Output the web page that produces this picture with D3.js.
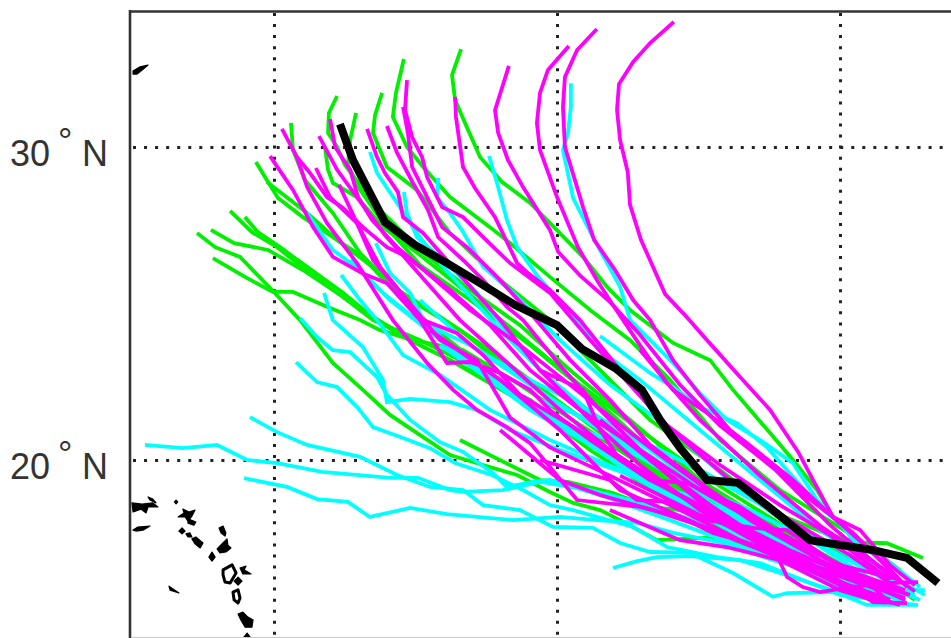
<!DOCTYPE html>
<html><head><meta charset="utf-8">
<style>html,body{margin:0;padding:0;background:#fff;overflow:hidden}svg{display:block}</style>
<script src="https://cdnjs.cloudflare.com/ajax/libs/d3/7.8.5/d3.min.js"></script>
</head><body><svg id="c" width="951" height="638"></svg>
<script>
const lonTicks=[130,140,150];
const latTicks=[30,20];
const latLabels=["30","20"];
const greenTracks=[
[[136.61,33.13],[136.29,32.3],[136.4,31.5],[136.75,30.77],[137.28,29.68],[138.06,28.88],[139.05,28.21],[140.1,27.25],[140.92,26.49],[141.77,25.53],[142.58,24.79],[144.1,23.74],[145.41,23.19],[146.22,22.24],[147.53,20.86],[148.34,20],[149.19,19.04],[149.75,18.18],[150.6,17.44],[151.66,16.64]],
[[134.59,32.81],[134.31,31.73],[134.2,30.96],[134.7,30],[135.27,29.36],[136.22,28.4],[137.63,27.44],[138.34,26.93],[139.75,25.85],[141.17,24.79],[142.58,23.83],[143.99,22.56],[145.76,20.64],[147.88,19.04],[150.71,17.44],[152.12,16.48]],
[[133.82,31.73],[133.57,31.02],[133.5,30.45],[133.99,29.36],[135.05,28.63],[136.22,27.25],[137.99,25.75],[139.75,24.47],[141.52,22.87],[143.29,21.28],[145.76,19.68],[148.59,17.76],[151.06,16.48],[152.65,15.53]],
[[132.23,31.63],[131.94,31.09],[131.91,30.45],[132.23,30],[132.51,29.42],[133.57,28.15],[135.16,26.71],[136.93,25.43],[138.69,24.31],[140.46,22.87],[142.58,21.28],[145.05,19.36],[147.88,17.76],[150.71,16.33]],
[[132.9,31.09],[132.69,30.22],[132.61,29.42],[133.04,28.63],[133.92,27.5],[135.16,26.23],[136.93,25.11],[139.05,23.67],[141.17,22.08],[142.93,20.64],[145.05,19.04],[147.53,17.6],[150.35,16.48]],
[[130.6,30.77],[130.67,29.9],[131.1,28.94],[132.08,27.89],[133.04,26.61],[134.1,25.65],[135.51,24.31],[137.28,23.03],[139.05,21.76],[141.17,20.32],[143.64,18.88],[146.47,17.44],[149.3,16.33],[151.77,15.53]],
[[131.8,30],[131.91,29.27],[132.08,28.85],[132.93,28.4],[133.85,27.44],[135.16,26.55],[136.93,25.27],[138.69,23.99],[140.81,22.4],[142.93,20.96],[145.41,19.36],[148.23,17.76],[150.71,16.8]],
[[129.36,29.52],[129.79,28.88],[130.14,28.37],[131.02,27.76],[132.23,27.03],[133.14,26.49],[133.99,25.65],[135.51,24.79],[137.63,23.51],[139.75,22.08],[141.87,20.64],[144.35,19.04],[147.17,17.6],[150,16.48]],
[[129.75,28.88],[130.21,28.56],[131.17,27.89],[132.23,27.03],[133.39,26.23],[134.81,25.11],[136.57,24.15],[138.34,22.87],[140.46,21.6],[142.93,20],[145.76,18.56],[148.59,17.28],[151.06,16.17]],
[[128.45,27.96],[129.22,27.28],[130.11,26.8],[131.27,25.97],[132.44,25.21],[133.5,24.47],[135.16,23.83],[137.28,22.87],[139.4,21.6],[141.87,20.16],[144.7,18.56],[147.53,17.28],[150.35,16.17]],
[[128.97,27.76],[129.43,27.28],[130.21,26.8],[131.17,26.17],[132.44,25.34],[133.39,24.63],[135.16,23.67],[136.93,22.87],[139.05,21.92],[141.17,20.48],[143.64,19.04],[146.47,17.6],[149.3,16.48]],
[[127.77,27.35],[128.59,26.93],[129.79,26.71],[131.02,26.07],[132.08,25.43],[133.14,24.79],[134.45,23.99],[136.22,23.19],[138.34,22.08],[140.46,20.96],[142.93,19.52],[145.76,18.08],[148.59,16.96],[151.41,15.84]],
[[127.28,27.25],[127.92,26.8],[128.8,26.49],[129.93,25.43],[130.92,24.47],[132.08,23.1],[133.14,22.24],[134.1,21.44],[135.27,20.73],[136.22,20.16],[137.39,19.84],[138.59,19.52],[139.75,18.98],[140.57,18.63],[141.52,18.4],[142.23,18.08],[143.53,17.44],[145.3,17.51],[147.53,17.12],[150,16.33],[152.3,15.46]],
[[127.84,26.45],[129.05,25.81],[129.96,25.37],[130.67,25.37],[131.98,24.86],[133.04,24.47],[133.75,24.15],[134.91,23.83],[136.68,23.51],[138.69,22.4],[140.81,21.12],[143.29,19.68],[146.11,18.24],[148.94,16.8],[151.24,16]],
[[145.05,19.68],[147.88,18.24],[149.65,17.6],[150.71,17.37],[151.66,17.34],[152.93,16.87]],
[[136.57,20.64],[139.4,19.36],[140.39,19.3],[141.98,18.94],[143.29,18.5],[144.35,18.4],[146.47,18.08],[148.59,16.96],[150.71,16.17]]
];
const cyanTracks=[
[[140.49,32.04],[140.49,31.28],[140.39,30.45],[140.21,29.9],[140.57,28.37],[141.27,27.12],[142.23,25.53],[142.58,24.47],[144.1,23.1],[145.05,22.14],[146.01,21.28],[147.17,20.64],[148.34,19.9],[149.19,18.72],[149.89,18.08],[150.71,17.22],[151.77,16.71],[152.83,15.94]],
[[137.6,29.71],[137.88,28.85],[138.23,27.67],[138.59,26.8],[139.33,25.85],[139.75,25.43],[141.52,23.51],[142.93,22.56],[145.05,20.96],[147.17,19.36],[149.3,17.76],[151.41,16.48],[153,15.69]],
[[133.39,29.84],[133.64,29.17],[134.35,28.21],[135.05,27.25],[135.87,26.29],[137.99,24.15],[139.75,22.56],[142.23,20.64],[145.76,18.4],[148.59,16.8],[152.12,15.53]],
[[135.8,29.01],[135.76,28.4],[136.22,27.89],[136.64,27.35],[137.39,26.17],[138.45,25.34],[140.1,23.83],[141.87,22.4],[144,21],[146.47,19.04],[148.94,17.44],[151.41,16]],
[[134.59,28.56],[134.7,27.89],[135.05,27.12],[135.97,26.39],[137.17,25.34],[137.88,24.47],[139.4,22.87],[141.52,21.28],[144,19.68],[146.82,17.92],[149.65,16.48],[152.47,15.37]],
[[133.6,26.93],[134.1,25.97],[134.81,25.34],[135.27,24.47],[136.93,23.03],[139.05,21.6],[141.17,20.48],[143.64,19.04],[146.47,17.6],[149.3,16.17],[152.12,15.37]],
[[131.17,27.89],[132.08,26.71],[133.04,26.07],[133.85,25.34],[135.05,24.47],[136.93,23.67],[139.05,22.4],[141.52,20.96],[143.99,19.52],[146.82,18.08],[149.65,16.64],[152.65,15.69]],
[[132.37,25.91],[133.04,25.11],[133.64,24.47],[134.56,23.35],[135.87,22.72],[137.63,21.6],[139.75,20.64],[142.23,19.68],[145.05,18.4],[147.88,17.12],[150.71,16]],
[[131.77,25.34],[132.08,24.47],[133.14,23.61],[133.85,22.56],[133.99,21.85],[134.81,21.95],[136.22,21.85],[137.17,21.6],[138.34,20.96],[140.1,20.32],[142.58,19.52],[145.05,18.72],[147.88,17.6],[150.71,16.33],[152.83,15.53]],
[[130.92,24.54],[131.52,23.93],[132.08,23.51],[132.69,23.45],[133.64,22.65],[133.99,22.08],[134.81,21.28],[135.87,20.57],[136.68,20.26],[137.74,19.58],[138.23,19.14],[139.15,19.3],[139.75,19.36],[141.52,18.88],[143.99,18.08],[146.82,17.12],[149.65,16.17],[152.3,15.69]],
[[130.78,23.13],[131.52,22.49],[132.23,22.33],[132.97,21.66],[133.5,21.05],[134.56,20.7],[135.51,20.38],[136.4,19.9],[137.7,19.52],[138.8,19.04],[139.75,18.56],[140.57,18.4],[142.69,17.86],[143.89,17.22],[145.65,16.9],[147.17,16.71],[150,15.69],[152.65,15.37]],
[[129.15,21.37],[130.11,20.89],[131.17,20.48],[133.04,20.1],[134.35,19.52],[135.51,19.14],[136.68,19.04],[137.39,18.56],[138.69,18.4],[139.86,17.86],[141.27,17.83],[142.23,17.35],[143.29,17.06],[144.7,17.03],[146.22,16.39],[147.63,15.63],[148.13,15.75],[150,15.78],[151.41,16]],
[[125.44,20.48],[126.78,20.38],[127.99,20.48],[129.05,20],[130.11,19.9],[131.7,19.62],[134.1,19.43],[135.09,19.43],[136.22,19.04],[136.68,18.98],[138.09,19.04],[139.4,19.3],[141.17,19.04],[143.29,18.56],[145.76,17.76],[148.23,16.64],[150.71,15.84],[153,15.84]],
[[128.94,19.42],[130.46,19.14],[131.52,18.75],[132.61,18.66],[133.39,18.18],[134.81,18.47],[136.11,18.27],[138.45,18.08],[140.1,18.18],[141.41,18.08],[142.83,17.99],[144.1,17.67],[145.87,17.35],[147.63,16.8],[150,16.17],[151.77,15.37]],
[[141.98,16.55],[142.83,16.77],[143.53,16.9],[144.7,16.93],[146.47,16.8],[147.88,16.39],[149.4,15.94],[150.95,15.37],[152.76,15.37]],
[[141.52,23.96],[143.29,22.78],[144.1,22.33],[145.05,21.69],[146.36,21.18],[147.42,20.41],[148.34,19.46],[149.4,18.4],[150,17.99],[151.41,16.33]],
[[135.16,25.11],[136.93,23.67],[138.69,22.72],[140.81,21.76],[143.29,20.32],[145.76,18.72],[148.59,17.12],[151.06,15.84]],
[[132.69,26.39],[134.1,25.11],[135.87,23.83],[137.99,22.4],[140.46,20.96],[142.93,19.36],[145.76,17.92],[148.59,16.64],[151.59,15.59]],
[[135.87,23.67],[137.63,22.56],[139.4,21.44],[141.87,20.64],[144.35,19.36],[146.82,18.4],[149.65,17.12],[151.94,16]],
[[139.4,21.92],[141.17,21.28],[142.93,20.64],[145.05,19.68],[147.53,18.4],[150,17.12],[152.3,15.84]]
];
const magentaTracks=[
[[144.13,34],[143.29,33.32],[142.69,32.72],[142.19,32.01],[142.12,31.18],[142.23,30.22],[142.5,29.2],[142.58,28.15],[142.97,27.03],[143.82,25.3],[144.52,24.63],[145.3,23.83],[146.47,22.65],[147.53,21.6],[148.52,20.26],[149.05,19.36],[149.75,18.18],[150.46,17.67],[151.17,17.03],[152.37,15.94]],
[[141.41,33.77],[140.71,33.1],[140.28,32.24],[140.21,31.28],[140.28,30],[140.92,28.08],[141.31,27.03],[142.05,26.07],[142.69,25.11],[143.29,24.47],[144.1,23.19],[145.05,22.08],[146.11,20.96],[147.53,19.9],[148.83,18.82],[149.75,18.18],[150.88,17.28],[152.3,16]],
[[140.42,33.23],[139.68,32.46],[139.4,31.73],[139.29,30.77],[139.4,29.9],[140,28.4],[140.74,26.8],[141.41,25.75],[141.94,25],[142.93,23.67],[143.8,22.55],[145.05,21.28],[147.17,19.5],[149.3,17.9],[151.4,16.6],[152.65,15.8]],
[[138.3,32.59],[137.81,31.18],[137.92,30.45],[138.27,29.58],[138.8,28.72],[139.75,27.35],[140.04,26.65],[140.81,25.9],[141.87,25.05],[142.93,24],[144.35,22.4],[145.76,21.1],[147.7,19.7],[149.65,17.92],[151.77,16.3]],
[[136.4,31.6],[136.43,30.96],[136.68,29.36],[137.1,28.69],[137.81,27.76],[138.59,26.29],[138.94,26],[139.75,25.43],[140.81,24.47],[142.2,22.9],[143.64,21.28],[145.76,19.84],[147.88,18.56],[149.65,17.6],[151.77,16.17]],
[[134.7,32.14],[134.63,31.18],[134.88,30.32],[135.23,29.68],[135.41,29.04],[135.94,28.08],[136.68,27.76],[137.39,27.12],[138.34,26.29],[139.75,25.34],[141.17,23.83],[142.58,22.4],[144,21],[146.11,19.36],[148.23,18.08],[150.35,16.96],[152.12,15.84]],
[[134.56,31.28],[134.73,30.45],[134.88,29.36],[135.41,28.4],[135.94,27.44],[136.82,26.8],[137.88,25.85],[139.05,24.7],[140.46,23.2],[141.87,21.92],[143.29,20.48],[145.41,19.04],[147.53,17.76],[149.65,16.8],[151.94,15.69]],
[[133.99,30.67],[134.35,29.81],[134.91,28.85],[135.44,27.99],[135.8,27.12],[136.68,26.39],[137.39,25.75],[138.23,24.89],[138.8,24.47],[140.1,23.03],[141.52,21.6],[143.29,20],[145.41,18.56],[147.53,17.28],[150,16.48],[152.3,15.53]],
[[133.29,30.58],[133.64,29.68],[133.92,29.17],[134.38,28.56],[134.56,27.76],[135.27,27.25],[136.57,25.91],[137.99,24.47],[139.4,22.87],[141.17,21.28],[142.93,19.84],[145.05,18.4],[147.53,17.12],[150,16.33],[152.12,15.84]],
[[131.98,30.89],[132.16,30],[132.69,29.27],[132.97,28.4],[133.46,27.67],[134.35,26.8],[135.16,26.17],[136.93,24.79],[138.69,23.67],[140.46,22.4],[142.23,21.12],[144.35,19.68],[146.82,18.08],[149.3,16.8],[151.59,15.84]],
[[131.59,30.35],[132.23,29.27],[132.93,28.4],[133.92,27.19],[135.16,25.91],[136.57,24.47],[138.34,23.03],[140.1,21.6],[141.87,20.32],[144,19.04],[146.47,17.76],[148.94,16.64],[151.41,15.84]],
[[130.28,30.58],[130.81,29.68],[131.27,29.17],[131.87,28.4],[132.44,28.05],[133.14,27.44],[133.99,26.8],[134.7,26.49],[136.22,25.43],[137.63,24.31],[139.05,22.87],[140.81,21.6],[142.93,20.32],[145.05,19.04],[147.53,17.76],[150,16.64],[152.12,16.17]],
[[129.86,29.71],[130.67,28.63],[131.38,27.44],[132.08,26.49],[133.11,25.97],[133.99,25.65],[135.16,24.47],[136.11,23.1],[136.93,23.13],[137.99,22.78],[139.05,22.24],[139.75,21.6],[141.17,20.64],[143.29,19.36],[145.76,18.24],[148.23,17.12],[150.71,16.17],[152.47,15.69]],
[[130.81,29.68],[131.17,28.72],[131.87,27.57],[132.93,26.29],[134.2,24.47],[135.41,23.1],[136.33,22.24],[137.17,21.6],[138.23,21.05],[139.05,20.54],[139.75,19.78],[140.71,18.72],[142.93,18.5],[144.35,18.18],[145.51,17.67],[147.88,17.03],[150.35,16.17],[152.3,15.59]],
[[131.48,29.33],[131.98,28.4],[132.93,27.57],[133.75,26.17],[134.7,25.11],[135.87,23.83],[137.17,23.19],[138.34,21.36],[139.75,20.4],[141.87,19.5],[144.35,18.4],[146.82,17.28],[149.3,16.33],[151.77,15.53]],
[[132.3,28.79],[132.93,27.57],[133.5,26.39],[134.7,25.11],[135.27,24.47],[136.47,24.05],[137.39,23.35],[138.69,22.08],[140.46,21.12],[142.93,19.68],[145.76,18.08],[148.23,16.8],[151.06,15.69]],
[[141.52,21.28],[143.29,20],[145.41,18.4],[147.63,17.22],[148.13,16.26],[148.69,15.94],[149.3,15.78],[150.35,15.94],[151.66,16.07],[152.76,16.1]],
[[142.23,19.5],[145.05,18.24],[147.88,17.28],[149.65,16.33],[151.17,15.46],[152.37,15.43]],
[[135.51,24.15],[137.99,22.56],[140.1,20.96],[142.23,19.04],[145.05,17.92],[147.88,16.96],[150.35,15.84],[152.12,15.37]],
[[139.4,22.87],[140.92,22.24],[141.52,20.96],[142.23,20],[143.29,19.36],[144.59,19.26],[146.47,18.5],[147.88,17.67],[149.19,17.03],[150.6,16.39],[151.66,15.53]],
[[142.93,23.52],[144.1,22.24],[145.3,21.5],[146.71,20.54],[148.34,19.36],[149.75,18.18],[150.71,17.76],[151.77,16.64],[152.65,16]],
[[139.4,20],[141.87,19.36],[142.83,18.72],[144,18.66],[145.3,18.08],[146.93,17.83],[148.13,17.76],[149.65,16.8],[151.41,15.84]],
[[137.99,20.96],[140.1,19.36],[141.52,18.88],[143.39,18.4],[145.3,17.83],[146.93,17.22],[148.59,16.64],[150.71,16.33],[152.3,15.84]],
[[141.87,18.4],[144.35,17.44],[145.98,17.22],[147.88,16.8],[150,15.84],[151.41,15.46]]
];
const blackTrack=[[132.33,30.73],[132.79,29.58],[133.92,27.6],[134.98,26.87],[136.04,26.33],[137.28,25.65],[138.52,24.95],[140,24.31],[140.88,23.55],[142.05,22.94],[143,22.24],[143.64,21.28],[144.35,20.38],[145.3,19.36],[146.4,19.27],[147.63,18.4],[148.94,17.44],[151.17,17.12],[152.37,16.87],[153.46,16.07]];
const islandsSolid=[
[[125.02,32.43],[125.27,32.56],[125.55,32.62],[125.34,32.46],[125.16,32.33],[125.02,32.33]],
[[124.98,18.63],[125.34,18.59],[125.72,18.63],[125.9,18.5],[125.55,18.5],[125.48,18.31],[125.3,18.43],[125.02,18.34]],
[[125.55,18.82],[125.72,18.75],[125.83,18.63],[125.62,18.72]],
[[125.02,17.76],[125.19,17.86],[125.62,17.89],[125.37,17.76],[125.12,17.73]],
[[126.48,18.66],[126.54,18.72],[126.6,18.66],[126.54,18.6]],
[[126.61,18.18],[126.82,18.31],[126.78,18.43],[127,18.34],[127.21,18.4],[127.1,18.21],[126.96,18.05],[126.86,18.18]],
[[126.96,18.12],[127.24,18.02],[127.17,17.92],[126.96,17.98]],
[[126.64,17.73],[126.75,17.83],[126.86,17.73],[126.75,17.64]],
[[126.89,17.64],[127.03,17.67],[127.1,17.54],[126.96,17.54]],
[[127.1,17.48],[127.24,17.54],[127.49,17.35],[127.39,17.19],[127.21,17.32]],
[[127.7,16.9],[127.81,17.06],[127.92,16.9],[127.81,16.77]],
[[128.06,17.83],[128.2,17.89],[128.3,17.67],[128.27,17.57],[128.13,17.67]],
[[127.99,17.16],[128.16,17.32],[128.34,17.48],[128.37,17.28],[128.48,17.19],[128.3,17.06],[128.09,17.03]],
[[128.59,16.13],[128.73,16.26],[128.87,16.13],[128.73,16]],
[[128.8,16.55],[129.01,16.61],[128.94,16.49],[129.19,16.36],[128.9,16.36]],
[[126.29,15.97],[126.64,15.75],[126.33,15.84]],
[[128.73,15.08],[128.9,15.14],[129.08,14.98],[129.26,14.89],[129.22,14.66],[128.98,14.66],[128.83,14.89]],
[[128.9,14.3],[129.05,14.47],[129.19,14.3]]
];
const islandsRing=[
[[128.2,16.49],[128.52,16.65],[128.66,16.39],[128.45,16.07],[128.27,16.1],[128.2,16.33]],
[[128.55,15.78],[128.73,15.85],[128.8,15.59],[128.73,15.43],[128.59,15.53]]
];

const x=d3.scaleLinear().domain([130,150]).range([274,840]);
const y=d3.scaleLinear().domain([30,20]).range([147,460]);
const svg=d3.select("#c");
const defs=svg.append("defs");
defs.append("clipPath").attr("id","plot").append("rect").attr("x",130).attr("y",11).attr("width",821).attr("height",626);
const line=d3.line().x(d=>x(d[0])).y(d=>y(d[1]));

const gx=svg.append("g").attr("transform","translate(0,11)").call(d3.axisBottom(x).tickValues(lonTicks).tickSize(625).tickFormat(""));
gx.select(".domain").remove();
gx.selectAll("line").attr("stroke","#222").attr("stroke-width",3).attr("stroke-dasharray","3 8.05").attr("stroke-dashoffset",-2);
const gy=svg.append("g").attr("transform","translate(130,0)").call(d3.axisRight(y).tickValues(latTicks).tickSize(815).tickFormat(""));
gy.select(".domain").remove();
gy.selectAll("line").attr("stroke","#222").attr("stroke-width",3).attr("stroke-dasharray","3 8.05").attr("stroke-dashoffset",-3);

const plot=svg.append("g").attr("clip-path","url(#plot)");
plot.selectAll(".is").data(islandsSolid).join("path").attr("class","is").attr("d",d=>line(d)+"Z").attr("fill","#000").attr("stroke","#000").attr("stroke-width",1.2).attr("stroke-linejoin","round");
plot.selectAll(".ir").data(islandsRing).join("path").attr("class","ir").attr("d",d=>line(d)+"Z").attr("fill","none").attr("stroke","#000").attr("stroke-width",3).attr("stroke-linejoin","round");
const groups=[[greenTracks,"#00f000"],[cyanTracks,"#00ffff"],[magentaTracks,"#ff00ff"]];
groups.forEach(([tracks,col])=>{
  plot.append("g").selectAll("path").data(tracks).join("path").attr("d",line).attr("fill","none").attr("stroke",col).attr("stroke-width",3.8).attr("stroke-linejoin","miter");
});
plot.append("path").datum(blackTrack).attr("d",line).attr("fill","none").attr("stroke","#000").attr("stroke-width",8).attr("stroke-linejoin","miter");

svg.append("line").attr("x1",130).attr("x2",130).attr("y1",10).attr("y2",638).attr("stroke","#333").attr("stroke-width",2.6);
svg.append("line").attr("x1",129).attr("x2",951).attr("y1",11.5).attr("y2",11.5).attr("stroke","#333").attr("stroke-width",2.4);
svg.append("line").attr("x1",131).attr("x2",951).attr("y1",637.5).attr("y2",637.5).attr("stroke","#c8c8c8").attr("stroke-width",1);

latTicks.forEach((v,i)=>{
  const t=svg.append("text").attr("y",y(v)+18.7).attr("font-family","'Liberation Sans',Arial,sans-serif").attr("font-size",36).attr("fill","#333");
  t.append("tspan").attr("x",10).text(latLabels[i]);
  t.append("tspan").attr("x",58).attr("dy",-12).text("°");
  t.append("tspan").attr("x",82).attr("dy",12).text("N");
});
</script></body></html>
